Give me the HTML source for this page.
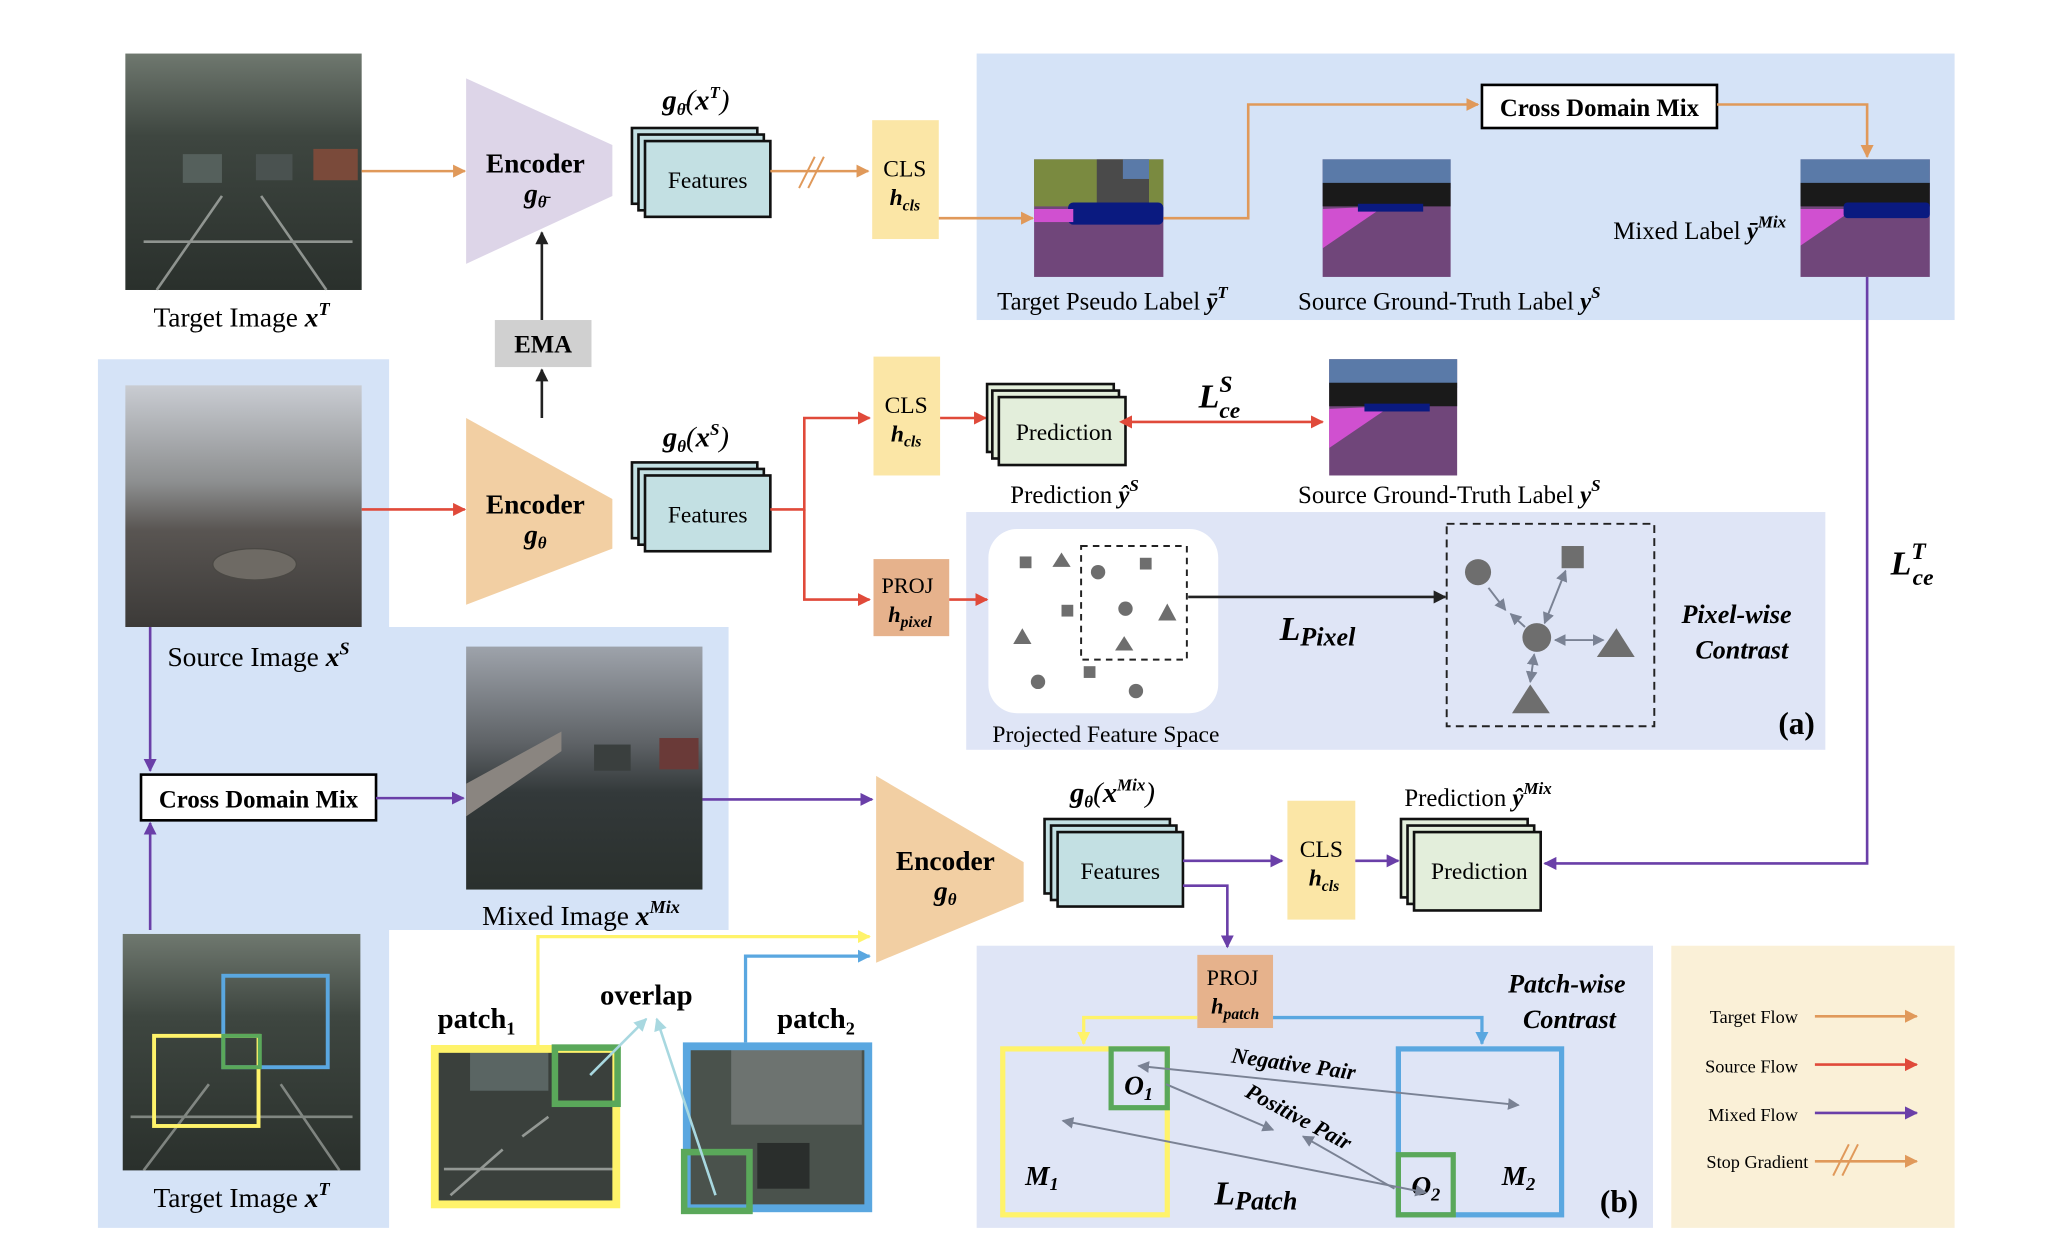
<!DOCTYPE html>
<html><head><meta charset="utf-8"><style>
html,body{margin:0;padding:0;background:#fff;}
svg{display:block;}
text{font-family:"Liberation Serif",serif;fill:#000;}
.b{font-weight:bold;}
.i{font-style:italic;}
</style></head><body>
<svg width="2046" height="1254" viewBox="0 0 1567 960" preserveAspectRatio="none" xmlns="http://www.w3.org/2000/svg">
<defs>
<marker id="ao" markerWidth="10" markerHeight="10" refX="9" refY="5" orient="auto" markerUnits="userSpaceOnUse"><path d="M0,0 L10,5 L0,10 z" fill="#e0995a"/></marker>
<marker id="ar" markerWidth="10" markerHeight="10" refX="9" refY="5" orient="auto" markerUnits="userSpaceOnUse"><path d="M0,0 L10,5 L0,10 z" fill="#e04a3a"/></marker>
<marker id="arS" markerWidth="10" markerHeight="10" refX="1" refY="5" orient="auto-start-reverse" markerUnits="userSpaceOnUse"><path d="M0,0 L10,5 L0,10 z" fill="#e04a3a"/></marker>
<marker id="ap" markerWidth="10" markerHeight="10" refX="9" refY="5" orient="auto" markerUnits="userSpaceOnUse"><path d="M0,0 L10,5 L0,10 z" fill="#6a3fa8"/></marker>
<marker id="ak" markerWidth="10" markerHeight="10" refX="9" refY="5" orient="auto" markerUnits="userSpaceOnUse"><path d="M0,0 L10,5 L0,10 z" fill="#222"/></marker>
<marker id="ay" markerWidth="10" markerHeight="10" refX="9" refY="5" orient="auto" markerUnits="userSpaceOnUse"><path d="M0,0 L10,5 L0,10 z" fill="#fff36a"/></marker>
<marker id="ab" markerWidth="10" markerHeight="10" refX="9" refY="5" orient="auto" markerUnits="userSpaceOnUse"><path d="M0,0 L10,5 L0,10 z" fill="#5aa7e0"/></marker>
<marker id="ag" markerWidth="9" markerHeight="9" refX="8" refY="4.5" orient="auto-start-reverse" markerUnits="userSpaceOnUse"><path d="M0,0 L9,4.5 L0,9 z" fill="#7a8294"/></marker>
<marker id="al" markerWidth="10" markerHeight="10" refX="9" refY="5" orient="auto" markerUnits="userSpaceOnUse"><path d="M0,0 L10,5 L0,10 z" fill="#a8d8e0"/></marker>
<linearGradient id="city" x1="0" y1="0" x2="0" y2="1"><stop offset="0" stop-color="#6f786f"/><stop offset="0.35" stop-color="#3e4640"/><stop offset="1" stop-color="#2a302c"/></linearGradient>
<linearGradient id="gta" x1="0" y1="0" x2="0" y2="1"><stop offset="0" stop-color="#c9ccd2"/><stop offset="0.4" stop-color="#8d8f90"/><stop offset="0.6" stop-color="#595552"/><stop offset="1" stop-color="#3c3a38"/></linearGradient>
<linearGradient id="mix" x1="0" y1="0" x2="0" y2="1"><stop offset="0" stop-color="#9ea3ab"/><stop offset="0.4" stop-color="#5e6266"/><stop offset="0.6" stop-color="#33393a"/><stop offset="1" stop-color="#2a302d"/></linearGradient>
</defs>

<rect x="748" y="41" width="749" height="204" fill="#d5e3f7"/>
<path d="M75,275 H298 V480 H558 V712 H298 V940 H75 Z" fill="#d5e3f7"/>
<rect x="740" y="392" width="658" height="182" fill="#dfe5f6"/>
<rect x="748" y="724" width="518" height="216" fill="#dfe5f6"/>
<rect x="1280" y="724" width="217" height="216" fill="#faf0d7"/>

<rect x="96" y="41" width="181" height="181" fill="url(#city)"/>
<path d="M120,222 L170,150 M250,222 L200,150 M110,185 H270" stroke="#cfd3cf" stroke-width="2" opacity="0.6"/>
<rect x="140" y="118" width="30" height="22" fill="#55605c"/><rect x="196" y="118" width="28" height="20" fill="#4a5250"/><rect x="240" y="114" width="34" height="24" fill="#7a4a3a"/>
<text x="185" y="250" font-size="21" text-anchor="middle">Target Image <tspan class="b i">x</tspan><tspan class="b i" font-size="14" dy="-9">T</tspan></text>

<line x1="277" y1="131" x2="356" y2="131" stroke="#e0995a" stroke-width="2" marker-end="url(#ao)"/>
<polygon points="357,60 469,111 469,150 357,202" fill="#ddd5e8"/>
<text x="410" y="132" font-size="21" class="b" text-anchor="middle">Encoder</text>
<text x="410" y="155" font-size="21" class="b i" text-anchor="middle">g<tspan font-size="13" dy="4">θ̄</tspan></text>

<g stroke="#111" stroke-width="2" fill="#c3e0e3">
<rect x="484" y="98" width="96" height="58"/><rect x="489" y="103" width="96" height="58"/><rect x="494" y="108" width="96" height="58"/></g>
<text x="542" y="144" font-size="18" text-anchor="middle">Features</text>
<text x="533" y="84" font-size="22" class="b i" text-anchor="middle">g<tspan font-size="13" dy="4">θ̄</tspan><tspan dy="-4" font-weight="normal">(</tspan>x<tspan font-size="13" dy="-9">T</tspan><tspan dy="9" font-weight="normal">)</tspan></text>
<line x1="590" y1="131" x2="665" y2="131" stroke="#e0995a" stroke-width="2" marker-end="url(#ao)"/>
<path d="M612,144 L624,120 M619,144 L631,120" stroke="#e0995a" stroke-width="1.5"/>
<rect x="668" y="92" width="51" height="91" fill="#fbe6a6"/>
<text x="693" y="135" font-size="18" text-anchor="middle">CLS</text>
<text x="693" y="157" font-size="18" class="b i" text-anchor="middle">h<tspan font-size="12" dy="4">cls</tspan></text>
<line x1="719" y1="167" x2="791" y2="167" stroke="#e0995a" stroke-width="2" marker-end="url(#ao)"/>

<g>
<rect x="792" y="122" width="99" height="90" fill="#70467a"/>
<rect x="792" y="122" width="99" height="36" fill="#7a8a40"/>
<rect x="840" y="122" width="40" height="36" fill="#4a4a4a"/><rect x="860" y="122" width="20" height="15" fill="#5a7aa8"/>
<rect x="818" y="155" width="73" height="17" rx="4" fill="#0a1a80"/>
<rect x="792" y="160" width="30" height="10" fill="#d050d0"/>
</g>
<text x="852" y="237" font-size="19" text-anchor="middle">Target Pseudo Label <tspan class="b i">ȳ</tspan><tspan class="b i" font-size="13" dy="-9">T</tspan></text>
<path d="M891,167 H956 V80 H1132" fill="none" stroke="#e0995a" stroke-width="2" marker-end="url(#ao)"/>
<rect x="1135" y="65" width="180" height="33" fill="#fff" stroke="#000" stroke-width="2"/>
<text x="1225" y="89" font-size="19" class="b" text-anchor="middle">Cross Domain Mix</text>
<path d="M1315,80 H1430 V120" fill="none" stroke="#e0995a" stroke-width="2" marker-end="url(#ao)"/>

<g>
<rect x="1013" y="122" width="98" height="90" fill="#70467a"/>
<rect x="1013" y="122" width="98" height="22" fill="#5a7aa8"/>
<rect x="1013" y="140" width="98" height="18" fill="#1a1a1a"/>
<polygon points="1013,160 1060,158 1013,190" fill="#d050d0"/>
<rect x="1040" y="156" width="50" height="6" fill="#0a1a80"/>
</g>
<text x="1110" y="237" font-size="19" text-anchor="middle">Source Ground-Truth Label <tspan class="b i">y</tspan><tspan class="b i" font-size="13" dy="-9">S</tspan></text>
<g>
<rect x="1379" y="122" width="99" height="90" fill="#70467a"/>
<rect x="1379" y="122" width="99" height="22" fill="#5a7aa8"/>
<rect x="1379" y="140" width="99" height="18" fill="#1a1a1a"/>
<polygon points="1379,160 1420,160 1379,188" fill="#d050d0"/>
<rect x="1412" y="155" width="66" height="12" rx="3" fill="#0a1a80"/>
</g>
<text x="1368" y="183" font-size="19" text-anchor="end">Mixed Label <tspan class="b i">ȳ</tspan><tspan class="b i" font-size="13" dy="-9">Mix</tspan></text>
<path d="M1430,212 V661 H1183" fill="none" stroke="#6a3fa8" stroke-width="2" marker-end="url(#ap)"/>
<text x="1448" y="440" font-size="26" class="b i">L<tspan font-size="18" dy="-12">T</tspan><tspan font-size="18" dx="-10" dy="20">ce</tspan></text>

<rect x="379" y="245" width="74" height="36" fill="#d0d0d0"/>
<text x="416" y="270" font-size="19" class="b" text-anchor="middle">EMA</text>
<line x1="415" y1="320" x2="415" y2="283" stroke="#222" stroke-width="2" marker-end="url(#ak)"/>
<line x1="415" y1="245" x2="415" y2="178" stroke="#222" stroke-width="2" marker-end="url(#ak)"/>

<rect x="96" y="295" width="181" height="185" fill="url(#gta)"/>
<ellipse cx="195" cy="432" rx="32" ry="12" fill="#6e6a64" stroke="#4a4844"/>
<text x="198" y="510" font-size="21" text-anchor="middle">Source Image <tspan class="b i">x</tspan><tspan class="b i" font-size="14" dy="-9">S</tspan></text>
<line x1="277" y1="390" x2="356" y2="390" stroke="#e04a3a" stroke-width="2" marker-end="url(#ar)"/>
<polygon points="357,320 469,382 469,420 357,463" fill="#f2cfa3"/>
<text x="410" y="393" font-size="21" class="b" text-anchor="middle">Encoder</text>
<text x="410" y="416" font-size="21" class="b i" text-anchor="middle">g<tspan font-size="13" dy="4">θ</tspan></text>

<g stroke="#111" stroke-width="2" fill="#c3e0e3">
<rect x="484" y="354" width="96" height="58"/><rect x="489" y="359" width="96" height="58"/><rect x="494" y="364" width="96" height="58"/></g>
<text x="542" y="400" font-size="18" text-anchor="middle">Features</text>
<text x="533" y="342" font-size="22" class="b i" text-anchor="middle">g<tspan font-size="13" dy="4">θ</tspan><tspan dy="-4" font-weight="normal">(</tspan>x<tspan font-size="13" dy="-9">S</tspan><tspan dy="9" font-weight="normal">)</tspan></text>
<path d="M590,390 H616 V320 H666" fill="none" stroke="#e04a3a" stroke-width="2" marker-end="url(#ar)"/>
<path d="M616,390 V459 H666" fill="none" stroke="#e04a3a" stroke-width="2" marker-end="url(#ar)"/>
<rect x="669" y="273" width="51" height="91" fill="#fbe6a6"/>
<text x="694" y="316" font-size="18" text-anchor="middle">CLS</text>
<text x="694" y="338" font-size="18" class="b i" text-anchor="middle">h<tspan font-size="12" dy="4">cls</tspan></text>
<line x1="720" y1="320" x2="755" y2="320" stroke="#e04a3a" stroke-width="2" marker-end="url(#ar)"/>
<g stroke="#111" stroke-width="2" fill="#e3eedb">
<rect x="756" y="294" width="97" height="52"/><rect x="760" y="299" width="97" height="52"/><rect x="765" y="304" width="97" height="52"/></g>
<text x="815" y="337" font-size="18" text-anchor="middle">Prediction</text>
<text x="823" y="385" font-size="19" text-anchor="middle">Prediction <tspan class="b i">ŷ</tspan><tspan class="b i" font-size="13" dy="-9">S</tspan></text>
<line x1="866" y1="323" x2="1013" y2="323" stroke="#e04a3a" stroke-width="2" marker-start="url(#arS)" marker-end="url(#ar)"/>
<text x="918" y="312" font-size="26" class="b i">L<tspan font-size="18" dy="-12">S</tspan><tspan font-size="18" dx="-10" dy="20">ce</tspan></text>
<g>
<rect x="1018" y="275" width="98" height="89" fill="#70467a"/>
<rect x="1018" y="275" width="98" height="22" fill="#5a7aa8"/>
<rect x="1018" y="293" width="98" height="18" fill="#1a1a1a"/>
<polygon points="1018,313 1065,311 1018,343" fill="#d050d0"/>
<rect x="1045" y="309" width="50" height="6" fill="#0a1a80"/>
</g>
<text x="1110" y="385" font-size="19" text-anchor="middle">Source Ground-Truth Label <tspan class="b i">y</tspan><tspan class="b i" font-size="13" dy="-9">S</tspan></text>

<rect x="669" y="428" width="58" height="59" fill="#e6b28c"/>
<text x="695" y="454" font-size="17" text-anchor="middle">PROJ</text>
<text x="697" y="476" font-size="17" class="b i" text-anchor="middle">h<tspan font-size="12" dy="4">pixel</tspan></text>
<line x1="727" y1="459" x2="756" y2="459" stroke="#e04a3a" stroke-width="2" marker-end="url(#ar)"/>

<rect x="757" y="405" width="176" height="141" rx="22" fill="#fff"/>
<rect x="828" y="418" width="81" height="87" fill="none" stroke="#222" stroke-width="1.5" stroke-dasharray="5,4"/>
<g fill="#6e6e6e">
<rect x="781" y="426" width="9" height="9"/><polygon points="813,423 820,434 806,434"/><circle cx="841" cy="438" r="5.5"/><rect x="873" y="427" width="9" height="9"/>
<rect x="813" y="463" width="9" height="9"/><circle cx="862" cy="466" r="5.5"/><polygon points="894,462 901,475 887,475"/>
<polygon points="783,481 790,493 776,493"/><polygon points="861,487 868,498 854,498"/><rect x="830" y="510" width="9" height="9"/>
<circle cx="795" cy="522" r="5.5"/><circle cx="870" cy="529" r="5.5"/>
</g>
<text x="847" y="568" font-size="18" text-anchor="middle">Projected Feature Space</text>
<line x1="910" y1="457" x2="1107" y2="457" stroke="#222" stroke-width="2" marker-end="url(#ak)"/>
<text x="980" y="490" font-size="26" class="b i">L<tspan font-size="20" dy="4">Pixel</tspan></text>
<rect x="1108" y="401" width="159" height="155" fill="none" stroke="#222" stroke-width="1.5" stroke-dasharray="6,4"/>
<g fill="#6e6e6e">
<circle cx="1132" cy="438" r="10"/><rect x="1196" y="418" width="17" height="17"/><circle cx="1177" cy="488" r="11"/>
<polygon points="1238,481 1252,503 1223,503"/><polygon points="1172,524 1187,546 1158,546"/>
</g>
<g stroke="#7a8294" stroke-width="1.5" fill="none">
<line x1="1140" y1="450" x2="1153" y2="467" marker-end="url(#ag)"/>
<line x1="1168" y1="480" x2="1157" y2="470" marker-end="url(#ag)"/>
<line x1="1183" y1="477" x2="1199" y2="437" marker-end="url(#ag)" marker-start="url(#ag)"/>
<line x1="1191" y1="490" x2="1228" y2="490" marker-end="url(#ag)" marker-start="url(#ag)"/>
<line x1="1175" y1="501" x2="1172" y2="522" marker-end="url(#ag)" marker-start="url(#ag)"/>
</g>
<text x="1330" y="477" font-size="20" class="b i" text-anchor="middle">Pixel-wise</text>
<text x="1334" y="504" font-size="20" class="b i" text-anchor="middle">Contrast</text>
<text x="1376" y="562" font-size="24" class="b" text-anchor="middle">(a)</text>

<line x1="115" y1="480" x2="115" y2="590" stroke="#6a3fa8" stroke-width="2" marker-end="url(#ap)"/>
<line x1="115" y1="712" x2="115" y2="630" stroke="#6a3fa8" stroke-width="2" marker-end="url(#ap)"/>
<rect x="108" y="593" width="180" height="35" fill="#fff" stroke="#000" stroke-width="2"/>
<text x="198" y="618" font-size="19" class="b" text-anchor="middle">Cross Domain Mix</text>
<line x1="288" y1="611" x2="355" y2="611" stroke="#6a3fa8" stroke-width="2" marker-end="url(#ap)"/>
<rect x="357" y="495" width="181" height="186" fill="url(#mix)"/>
<path d="M357,600 L430,560 V575 L357,625 Z" fill="#8a8580"/>
<rect x="455" y="570" width="28" height="20" fill="#3a3f3e"/><rect x="505" y="565" width="30" height="24" fill="#6a3a38"/>
<text x="445" y="708" font-size="21" text-anchor="middle">Mixed Image <tspan class="b i">x</tspan><tspan class="b i" font-size="14" dy="-9">Mix</tspan></text>
<line x1="538" y1="612" x2="668" y2="612" stroke="#6a3fa8" stroke-width="2" marker-end="url(#ap)"/>

<polygon points="671,594 784,660 784,690 671,737" fill="#f2cfa3"/>
<text x="724" y="666" font-size="21" class="b" text-anchor="middle">Encoder</text>
<text x="724" y="689" font-size="21" class="b i" text-anchor="middle">g<tspan font-size="13" dy="4">θ</tspan></text>
<g stroke="#111" stroke-width="2" fill="#c3e0e3">
<rect x="800" y="627" width="96" height="57"/><rect x="805" y="632" width="96" height="57"/><rect x="810" y="637" width="96" height="57"/></g>
<text x="858" y="673" font-size="18" text-anchor="middle">Features</text>
<text x="852" y="614" font-size="22" class="b i" text-anchor="middle">g<tspan font-size="13" dy="4">θ</tspan><tspan dy="-4" font-weight="normal">(</tspan>x<tspan font-size="13" dy="-9">Mix</tspan><tspan dy="9" font-weight="normal">)</tspan></text>
<line x1="906" y1="659" x2="982" y2="659" stroke="#6a3fa8" stroke-width="2" marker-end="url(#ap)"/>
<rect x="986" y="613" width="52" height="91" fill="#fbe6a6"/>
<text x="1012" y="656" font-size="18" text-anchor="middle">CLS</text>
<text x="1014" y="678" font-size="18" class="b i" text-anchor="middle">h<tspan font-size="12" dy="4">cls</tspan></text>
<line x1="1038" y1="659" x2="1071" y2="659" stroke="#6a3fa8" stroke-width="2" marker-end="url(#ap)"/>
<g stroke="#111" stroke-width="2" fill="#e3eedb">
<rect x="1073" y="627" width="97" height="60"/><rect x="1078" y="632" width="97" height="60"/><rect x="1083" y="637" width="97" height="60"/></g>
<text x="1133" y="673" font-size="18" text-anchor="middle">Prediction</text>
<text x="1132" y="617" font-size="19" text-anchor="middle">Prediction <tspan class="b i">ŷ</tspan><tspan class="b i" font-size="13" dy="-9">Mix</tspan></text>
<path d="M906,678 H940 V725" fill="none" stroke="#6a3fa8" stroke-width="2" marker-end="url(#ap)"/>

<rect x="917" y="731" width="58" height="56" fill="#e6b28c"/>
<text x="944" y="754" font-size="17" text-anchor="middle">PROJ</text>
<text x="946" y="776" font-size="17" class="b i" text-anchor="middle">h<tspan font-size="12" dy="4">patch</tspan></text>
<path d="M917,779 H830 V799" fill="none" stroke="#fff36a" stroke-width="2.5" marker-end="url(#ay)"/>
<path d="M975,779 H1135 V799" fill="none" stroke="#5aa7e0" stroke-width="2.5" marker-end="url(#ab)"/>
<rect x="768" y="803" width="126" height="127" fill="none" stroke="#fff36a" stroke-width="4"/>
<rect x="1071" y="803" width="125" height="127" fill="none" stroke="#5aa7e0" stroke-width="4"/>
<rect x="851" y="803" width="43" height="45" fill="none" stroke="#5aa85a" stroke-width="4"/>
<rect x="1071" y="884" width="42" height="46" fill="none" stroke="#5aa85a" stroke-width="4"/>
<text x="872" y="838" font-size="21" class="b i" text-anchor="middle">O<tspan font-size="14" dy="4">1</tspan></text>
<text x="1092" y="915" font-size="21" class="b i" text-anchor="middle">O<tspan font-size="14" dy="4">2</tspan></text>
<text x="798" y="907" font-size="21" class="b i" text-anchor="middle">M<tspan font-size="14" dy="4">1</tspan></text>
<text x="1163" y="907" font-size="21" class="b i" text-anchor="middle">M<tspan font-size="14" dy="4">2</tspan></text>
<g stroke="#7a8294" stroke-width="1.5" fill="none">
<line x1="872" y1="816" x2="1163" y2="846" marker-end="url(#ag)" marker-start="url(#ag)"/>
<line x1="893" y1="830" x2="975" y2="865" marker-end="url(#ag)"/>
<line x1="1068" y1="910" x2="998" y2="870" marker-end="url(#ag)"/>
<line x1="1092" y1="913" x2="814" y2="858" marker-end="url(#ag)" marker-start="url(#ag)"/>
</g>
<text x="990" y="820" font-size="17" class="b i" text-anchor="middle" transform="rotate(8 990 820)">Negative Pair</text>
<text x="992" y="860" font-size="17" class="b i" text-anchor="middle" transform="rotate(28 992 860)">Positive Pair</text>
<text x="930" y="922" font-size="26" class="b i">L<tspan font-size="20" dy="4">Patch</tspan></text>
<text x="1200" y="760" font-size="20" class="b i" text-anchor="middle">Patch-wise</text>
<text x="1202" y="787" font-size="20" class="b i" text-anchor="middle">Contrast</text>
<text x="1240" y="928" font-size="24" class="b" text-anchor="middle">(b)</text>

<g font-size="14">
<text x="1377" y="783" text-anchor="end" font-size="14">Target Flow</text>
<text x="1377" y="821" text-anchor="end" font-size="14">Source Flow</text>
<text x="1377" y="858" text-anchor="end" font-size="14">Mixed Flow</text>
<text x="1385" y="894" text-anchor="end" font-size="14">Stop Gradient</text>
</g>
<line x1="1390" y1="778" x2="1468" y2="778" stroke="#e0995a" stroke-width="2" marker-end="url(#ao)"/>
<line x1="1390" y1="815" x2="1468" y2="815" stroke="#e04a3a" stroke-width="2" marker-end="url(#ar)"/>
<line x1="1390" y1="852" x2="1468" y2="852" stroke="#6a3fa8" stroke-width="2" marker-end="url(#ap)"/>
<line x1="1390" y1="889" x2="1468" y2="889" stroke="#e0995a" stroke-width="2" marker-end="url(#ao)"/>
<path d="M1404,900 L1416,876 M1411,900 L1423,876" stroke="#e0995a" stroke-width="1.5"/>

<rect x="94" y="715" width="182" height="181" fill="url(#city)"/>
<path d="M110,896 L160,830 M260,896 L215,830 M100,855 H270" stroke="#cfd3cf" stroke-width="2" opacity="0.5"/>
<rect x="171" y="747" width="80" height="70" fill="none" stroke="#5aa7e0" stroke-width="3"/>
<rect x="118" y="793" width="80" height="69" fill="none" stroke="#fff36a" stroke-width="3"/>
<rect x="171" y="793" width="28" height="24" fill="none" stroke="#5aa85a" stroke-width="3"/>
<text x="185" y="924" font-size="21" text-anchor="middle">Target Image <tspan class="b i">x</tspan><tspan class="b i" font-size="14" dy="-9">T</tspan></text>

<path d="M412,800 V717 H666" fill="none" stroke="#fff36a" stroke-width="2.5" marker-end="url(#ay)"/>
<path d="M571,798 V732 H666" fill="none" stroke="#5aa7e0" stroke-width="2.5" marker-end="url(#ab)"/>
<rect x="333" y="803" width="139" height="119" fill="#3a403c"/>
<rect x="360" y="805" width="60" height="30" fill="#5a6563"/>
<path d="M345,915 L385,880 M400,870 L420,855 M340,895 H470" stroke="#cfd3cf" stroke-width="2" opacity="0.6"/>
<rect x="333" y="803" width="139" height="119" fill="none" stroke="#fff36a" stroke-width="6"/>
<rect x="425" y="802" width="48" height="43" fill="none" stroke="#5aa85a" stroke-width="5"/>
<rect x="526" y="801" width="139" height="124" fill="#4a524c"/>
<rect x="560" y="801" width="100" height="60" fill="#6d7370"/>
<rect x="580" y="875" width="40" height="35" fill="#2a2e2c"/>
<rect x="526" y="801" width="139" height="124" fill="none" stroke="#5aa7e0" stroke-width="6"/>
<rect x="524" y="882" width="50" height="45" fill="none" stroke="#5aa85a" stroke-width="5"/>
<line x1="452" y1="823" x2="495" y2="780" stroke="#a8d8e0" stroke-width="2" marker-end="url(#al)"/>
<line x1="548" y1="915" x2="503" y2="780" stroke="#a8d8e0" stroke-width="2" marker-end="url(#al)"/>
<text x="365" y="787" font-size="22" class="b" text-anchor="middle">patch<tspan font-size="14" dy="5">1</tspan></text>
<text x="495" y="769" font-size="22" class="b" text-anchor="middle">overlap</text>
<text x="625" y="787" font-size="22" class="b" text-anchor="middle">patch<tspan font-size="14" dy="5">2</tspan></text>
</svg>
</body></html>
